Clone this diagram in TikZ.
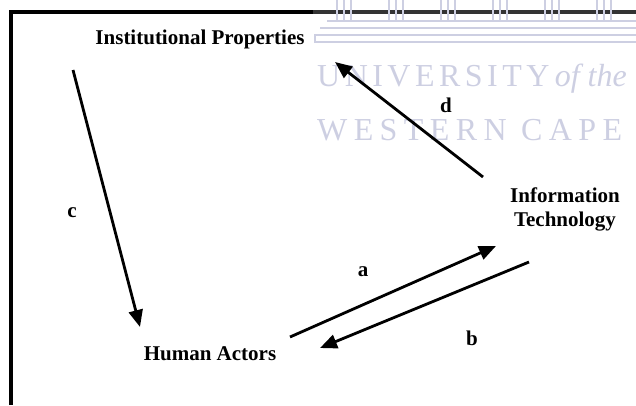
\documentclass[tikz,border=0pt]{standalone}
\usepackage{fontspec}
\setmainfont{Liberation Serif}
\newfontfamily\wmfontA[LetterSpace=14]{Liberation Serif}
\newfontfamily\wmfontB[LetterSpace=20]{Liberation Serif}
\usetikzlibrary{arrows.meta}
\definecolor{wm}{RGB}{205,207,226}
\begin{document}
\begin{tikzpicture}[x=1pt,y=-1pt,
  lbl/.style={font=\fontsize{21}{24}\selectfont\bfseries, inner sep=0pt, align=center},
  tag/.style={font=\fontsize{21}{24}\selectfont\bfseries, inner sep=0pt},
  arr/.style={line width=2.8pt, -{Triangle[length=17pt,width=14pt]}},
  frame/.style={line width=4pt, line join=miter},
  wmline/.style={draw=wm, line width=1.8pt},
  wmtext/.style={text=wm, font=\fontsize{32}{34}\selectfont, inner sep=0pt}]
\useasboundingbox (0,0) rectangle (636,405);
% frame
\draw[frame] (11,405) -- (11,12) -- (636,12);
% watermark
\fill[white, opacity=0.2] (313,0) rectangle (636,45);
\foreach \k in {0,...,5} {
  \foreach \d in {-7,0,7} {
    \draw[wmline] ({344+52*\k+\d},0) -- ({344+52*\k+\d},20);
  }
}
\draw[wmline] (327,21) -- (636,21);
\draw[wmline] (320,28) -- (636,28);
\draw[wmline] (636,35) -- (315,35) -- (315,42) -- (636,42);
\node[wmtext, anchor=base west] (wm1) at (317,86) {{\wmfontA UNIVERSITY}\,\textit{of the}};
\node[wmtext, anchor=base west] (wm2) at (317,140) {{\wmfontB WESTERN CAPE}};
% main nodes
\node[lbl, anchor=base] (ip) at (200,44) {Institutional Properties};
\node[lbl, anchor=base] (ha) at (210,360) {Human Actors};
\node[lbl, anchor=base] (it) at (565,226) {Information\\Technology};
% endpoints
\coordinate (c1) at (73,70);
\coordinate (c2) at (140,327);
\coordinate (a1) at (290,337);
\coordinate (a2) at (496,246);
\coordinate (b1) at (529,262);
\coordinate (b2) at (320,348);
\coordinate (d1) at (483,177);
\coordinate (d2) at (335,62);
\draw[arr] (c1) -- (c2);
\draw[arr] (a1) -- (a2);
\draw[arr] (b1) -- (b2);
\draw[arr] (d1) -- (d2);
% labels
\node[tag] (lc) at (72,213) {c};
\node[tag] (la) at (363,272) {a};
\node[tag] (lb) at (472,338) {b};
\node[tag] (ld) at (446,105) {d};
\end{tikzpicture}
\end{document}
